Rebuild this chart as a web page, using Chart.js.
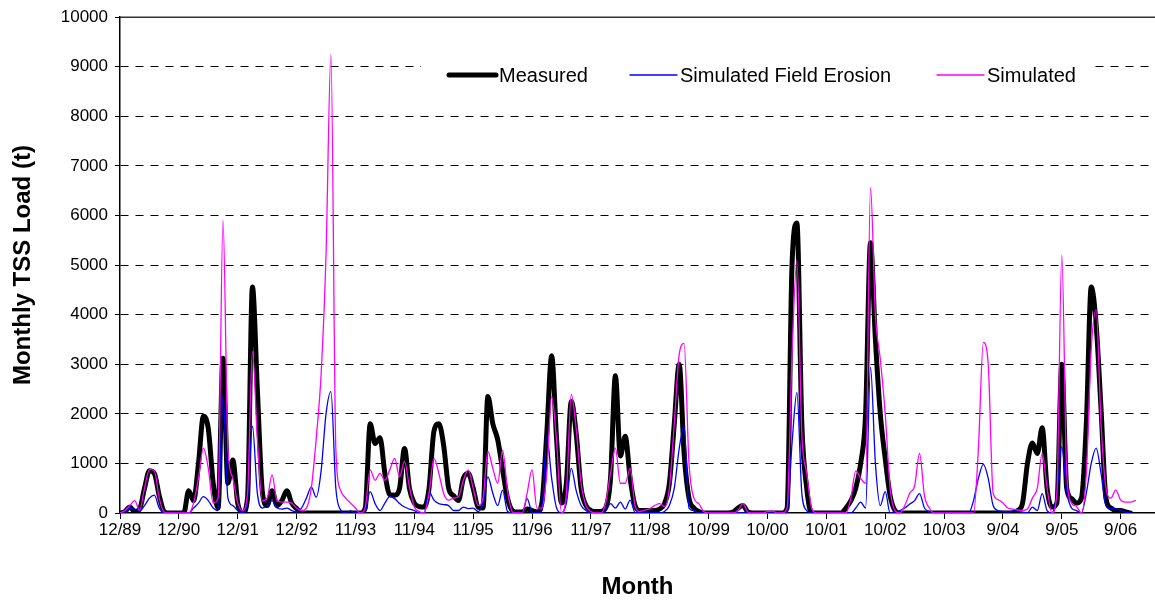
<!DOCTYPE html>
<html>
<head>
<meta charset="utf-8">
<script src="https://cdn.jsdelivr.net/npm/chart.js@4.4.1/dist/chart.umd.min.js"></script>
<style>
  html, body { margin: 0; padding: 0; background: #fff; }
</style>
</head>
<body>
<canvas id="tss-chart" width="1155" height="603"></canvas>
<script>
// ── Data: monthly TSS load (t), one value per month from 12/89 ────────────────

const tickLabels = ["12/89", "12/90", "12/91", "12/92", "11/93", "11/94", "11/95", "11/96", "11/97",
                    "11/98", "10/99", "10/00", "10/01", "10/02", "10/03", "9/04", "9/05", "9/06"];

const measured = [
  0, 30, 120, 30, 80, 500, 850, 800, 350, 30,
  0, 0, 0, 0, 450, 250, 1000, 1950, 1700, 600,
  100, 3120, 600, 1070, 200, 0, 300, 4560, 2500, 450,
  150, 450, 150, 250, 450, 200, 90, 0, 0, 0,
  0, 0, 0, 0, 0, 0, 0, 0, 0, 0,
  100, 1800, 1400, 1520, 800, 370, 360, 500, 1300, 500,
  200, 130, 120, 500, 1650, 1800, 1350, 500, 350, 250,
  700, 800, 500, 120, 100, 2350, 1800, 1480, 870, 300,
  50, 20, 20, 80, 50, 20, 200, 1600, 3170, 1500,
  200, 600, 2250, 1600, 500, 150, 50, 30, 30, 100,
  700, 2770, 1150, 1550, 700, 150, 50, 50, 50, 50,
  80, 190, 600, 1800, 3000, 1200, 300, 100, 30, 0,
  0, 0, 0, 0, 0, 20, 100, 150, 20, 0,
  0, 0, 0, 0, 0, 0, 100, 5000, 5850, 1800,
  500, 0, 0, 0, 0, 0, 0, 0, 100, 250,
  500, 1000, 2000, 5450, 3500, 2000, 1100, 350, 50, 0,
  0, 0, 0, 0, 0, 0, 0, 0, 0, 0,
  0, 0, 0, 0, 0, 0, 0, 0, 0, 0,
  0, 0, 0, 50, 200, 1000, 1410, 1200, 1720, 500,
  120, 200, 3000, 500, 290, 200, 300, 1800, 4560, 3800,
  2100, 300, 100, 50, 50, 20, 0, null, null, null,
  null, null,
];

const fieldErosion = [
  0, 30, 100, 80, 50, 150, 300, 360, 100, 0,
  0, 0, 0, 0, 0, 100, 200, 330, 250, 100,
  50, 2360, 300, 150, 50, 0, 300, 1750, 400, 100,
  150, 250, 100, 80, 100, 50, 20, 100, 300, 520,
  320, 850, 2000, 2450, 500, 60, 0, 40, 0, 0,
  50, 430, 190, 50, 200, 330, 290, 190, 120, 80,
  50, 0, 0, 430, 260, 190, 170, 150, 50, 50,
  120, 90, 100, 30, 200, 730, 400, 150, 460, 30,
  0, 0, 0, 290, 20, 0, 50, 1550, 700, 100,
  0, 200, 900, 450, 150, 50, 0, 0, 0, 50,
  190, 100, 220, 80, 260, 10, 0, 0, 0, 0,
  0, 30, 150, 500, 1300, 1750, 100, 50, 0, 0,
  0, 0, 0, 0, 0, 0, 0, 0, 0, 0,
  0, 0, 0, 0, 0, 0, 0, 1400, 2430, 400,
  50, 0, 0, 0, 0, 0, 0, 0, 0, 0,
  100, 220, 100, 2940, 1000, 150, 430, 0, 0, 50,
  100, 180, 250, 390, 100, 30, 0, 0, 0, 0,
  0, 0, 0, 0, 250, 700, 980, 700, 150, 50,
  30, 20, 40, 50, 20, 0, 120, 50, 390, 50,
  0, 400, 1340, 430, 100, 50, 0, 400, 1000, 1310,
  800, 150, 90, 90, 50, 20, 0, null, null, null,
  null, null,
];

const simulated = [
  0, 50, 150, 250, 50, 500, 880, 850, 300, 20,
  0, 0, 0, 0, 0, 200, 700, 1310, 900, 200,
  300, 5900, 1300, 700, 200, 50, 400, 3260, 1500, 250,
  300, 770, 250, 220, 220, 200, 100, 50, 100, 500,
  1500, 2800, 5200, 9250, 1300, 450, 300, 200, 100, 0,
  120, 870, 660, 800, 660, 870, 1100, 730, 1040, 530,
  120, 30, 0, 390, 1100, 800, 390, 260, 300, 330,
  660, 870, 500, 150, 300, 1240, 900, 600, 1270, 450,
  20, 0, 0, 400, 870, 100, 100, 800, 2350, 1450,
  0, 400, 2390, 1700, 600, 150, 30, 0, 0, 200,
  800, 1310, 600, 600, 900, 150, 30, 60, 90, 150,
  190, 130, 500, 1800, 3200, 3420, 1000, 300, 190, 30,
  0, 0, 0, 0, 0, 0, 50, 190, 20, 0,
  0, 0, 30, 40, 0, 0, 100, 3200, 5100, 1600,
  800, 100, 0, 0, 0, 0, 0, 0, 0, 300,
  850, 700, 600, 6560, 4000, 3100, 2000, 500, 50, 0,
  150, 400, 550, 1200, 350, 100, 0, 0, 0, 0,
  0, 0, 0, 0, 0, 1300, 3440, 3000, 400, 270,
  200, 100, 80, 60, 50, 80, 300, 500, 1200, 500,
  0, 400, 5200, 800, 200, 130, 0, 800, 3300, 4100,
  1800, 500, 300, 460, 260, 220, 220, 250, null, null,
  null, null,
];

const MONTHS_SHOWN = 211;
const FONT = "'Liberation Sans', Arial, sans-serif";

function toPoints(values) {
  return values.map((v, i) => ({ x: i, y: v }));
}

// ── Plot frame top line + in-plot legend box ──────────────────────────────────

const framePlugin = {
  id: "frame",
  afterDraw(chart) {
    const { ctx, chartArea } = chart;
    ctx.save();
    ctx.strokeStyle = "#333";
    ctx.lineWidth = 1.5;
    ctx.beginPath();
    ctx.moveTo(chartArea.left, chartArea.top);
    ctx.lineTo(chartArea.right, chartArea.top);
    ctx.stroke();

    // legend box sits over the 9000 grid line
    ctx.fillStyle = "#fff";
    ctx.fillRect(421, 52, 674, 46);

    const sampleX = [449, 630, 937];
    const y = 75;
    ctx.font = `20px ${FONT}`;
    ctx.textBaseline = "middle";
    ctx.fillStyle = "#000";
    chart.data.datasets.forEach((ds, k) => {
      ctx.strokeStyle = ds.borderColor;
      ctx.lineWidth = ds.borderWidth;
      ctx.lineCap = "round";
      ctx.beginPath();
      ctx.moveTo(sampleX[k], y);
      ctx.lineTo(sampleX[k] + 47, y);
      ctx.stroke();
      ctx.fillText(ds.label, sampleX[k] + 50, y + 1);
    });
    ctx.restore();
  },
};

// ── Chart ─────────────────────────────────────────────────────────────────────

const ctx = document.getElementById("tss-chart").getContext("2d");

new Chart(ctx, {
  type: "line",
  data: {
    datasets: [
      { label: "Measured", data: toPoints(measured), borderColor: "#000000", borderWidth: 5, order: 3 },
      { label: "Simulated Field Erosion", data: toPoints(fieldErosion), borderColor: "#0000ff", borderWidth: 1.3, order: 2 },
      { label: "Simulated", data: toPoints(simulated), borderColor: "#ff00ff", borderWidth: 1.3, order: 1 },
    ],
  },
  options: {
    responsive: false,
    animation: false,
    layout: { padding: { top: 15, right: 0, bottom: 0, left: 0 } },
    elements: {
      point: { radius: 0 },
      line: { cubicInterpolationMode: "monotone", borderJoinStyle: "round", borderCapStyle: "round" },
    },
    plugins: { legend: { display: false }, tooltip: { enabled: false } },
    scales: {
      x: {
        type: "linear",
        min: 0,
        max: MONTHS_SHOWN,
        afterBuildTicks: s => { s.ticks = tickLabels.map((_, k) => ({ value: k * 12 })); },
        afterFit: s => { s.height = 90; },
        ticks: {
          callback: v => tickLabels[v / 12] ?? "",
          autoSkip: false,
          maxRotation: 0,
          padding: 1,
          color: "#000",
          font: { family: FONT, size: 17 },
        },
        grid: { drawOnChartArea: false, drawTicks: true, tickLength: 6, tickColor: "#000", tickWidth: 1 },
        border: { color: "#000", width: 1.5 },
        title: {
          display: true,
          text: "Month",
          color: "#000",
          font: { family: FONT, size: 24, weight: "bold" },
          padding: { top: 0, bottom: 1 },
        },
      },
      y: {
        min: 0,
        max: 10000,
        afterFit: s => { s.width = 120; },
        ticks: { stepSize: 1000, padding: 7, color: "#000", font: { family: FONT, size: 17 }, callback: v => String(v) },
        grid: {
          color: c => (c.tick && (c.tick.value === 0 || c.tick.value === 10000)) ? "rgba(0,0,0,0)" : "#000",
          lineWidth: 1,
          tickLength: 5,
          tickColor: "#000",
        },
        border: { color: "#000", width: 1.5, dash: [8, 7] },
        title: {
          display: true,
          text: "Monthly TSS Load (t)",
          color: "#000",
          font: { family: FONT, size: 24, weight: "bold" },
          padding: { top: 9, bottom: 0 },
        },
      },
    },
  },
  plugins: [framePlugin],
});
</script>
</body>
</html>
